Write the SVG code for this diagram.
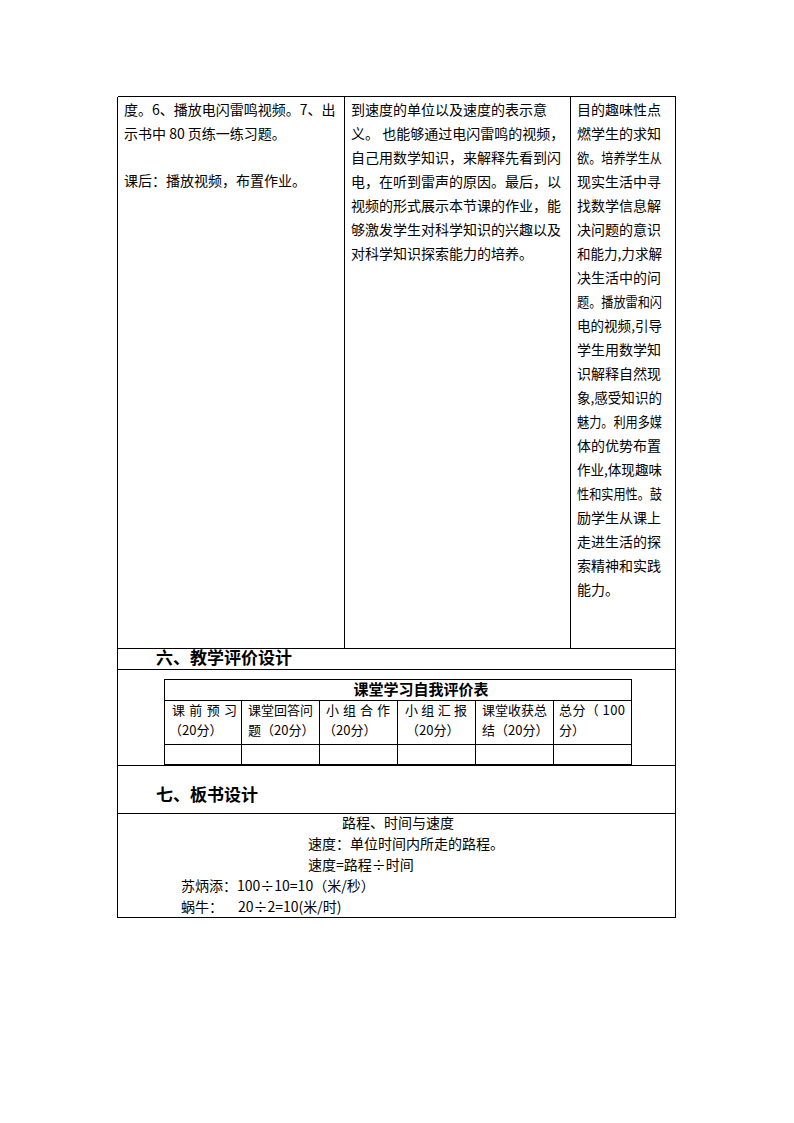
<svg xmlns="http://www.w3.org/2000/svg" width="794" height="1123" viewBox="0 0 794 1123">
<style>
.ln{stroke:#000;stroke-width:1;fill:none;shape-rendering:crispEdges}
.t{font-family:"Noto Sans CJK SC","Liberation Sans",sans-serif;font-size:14px;fill:#000}
.s{font-family:"Noto Sans CJK SC","Liberation Sans",sans-serif;font-size:13px;fill:#000}
.h{font-family:"Noto Sans CJK SC","Liberation Sans",sans-serif;font-size:17px;font-weight:bold;fill:#000}
.th{font-family:"Noto Sans CJK SC","Liberation Sans",sans-serif;font-size:15px;font-weight:bold;fill:#000}
</style>
<rect width="794" height="1123" fill="#fff"/>
<g id="connectors">
<path class="ln" d="M117.5 96.5H675.5M117.5 96.5V917.5M675.5 96.5V917.5M344.5 96.5V648.5M570.5 96.5V648.5M117.5 648.5H675.5M117.5 669.5H675.5M117.5 765.5H675.5M117.5 813.5H675.5M117.5 917.5H675.5"/>
<path class="ln" d="M164.5 679.5H631.5V764.5H164.5ZM164.5 700.5H631.5M164.5 744.5H631.5M241.5 700.5V764.5M319.5 700.5V764.5M397.5 700.5V764.5M475.5 700.5V764.5M553.5 700.5V764.5"/>
</g>
<g id="cell-left">
<text class="t" x="124" y="115">度。6、播放电闪雷鸣视频。7、出</text>
<text class="t" x="124" y="139">示书中 80 页练一练习题。</text>
<text class="t" x="124" y="186">课后：播放视频，布置作业。</text>
</g>
<g id="cell-middle">
<text class="t" x="351" y="115">到速度的单位以及速度的表示意</text>
<text class="t" x="351" y="139" xml:space="preserve">义。 也能够通过电闪雷鸣的视频，</text>
<text class="t" x="351" y="163">自己用数学知识，来解释先看到闪</text>
<text class="t" x="351" y="187">电，在听到雷声的原因。最后，以</text>
<text class="t" x="351" y="211">视频的形式展示本节课的作业，能</text>
<text class="t" x="351" y="235">够激发学生对科学知识的兴趣以及</text>
<text class="t" x="351" y="259">对科学知识探索能力的培养。</text>
</g>
<g id="cell-right">
<text class="t" x="577" y="115">目的趣味性点</text>
<text class="t" x="577" y="139">燃学生的求知</text>
<text class="t" x="577" y="163" textLength="85" lengthAdjust="spacingAndGlyphs">欲。培养学生从</text>
<text class="t" x="577" y="187">现实生活中寻</text>
<text class="t" x="577" y="211">找数学信息解</text>
<text class="t" x="577" y="235">决问题的意识</text>
<text class="t" x="577" y="259" textLength="85" lengthAdjust="spacingAndGlyphs">和能力,力求解</text>
<text class="t" x="577" y="283">决生活中的问</text>
<text class="t" x="577" y="307" textLength="85" lengthAdjust="spacingAndGlyphs">题。播放雷和闪</text>
<text class="t" x="577" y="331" textLength="85" lengthAdjust="spacingAndGlyphs">电的视频,引导</text>
<text class="t" x="577" y="355">学生用数学知</text>
<text class="t" x="577" y="379">识解释自然现</text>
<text class="t" x="577" y="403" textLength="85" lengthAdjust="spacingAndGlyphs">象,感受知识的</text>
<text class="t" x="577" y="427" textLength="85" lengthAdjust="spacingAndGlyphs">魅力。利用多媒</text>
<text class="t" x="577" y="451">体的优势布置</text>
<text class="t" x="577" y="475" textLength="85" lengthAdjust="spacingAndGlyphs">作业,体现趣味</text>
<text class="t" x="577" y="499" textLength="85" lengthAdjust="spacingAndGlyphs">性和实用性。鼓</text>
<text class="t" x="577" y="523">励学生从课上</text>
<text class="t" x="577" y="547">走进生活的探</text>
<text class="t" x="577" y="571">索精神和实践</text>
<text class="t" x="577" y="595">能力。</text>
</g>
<g id="heading-6">
<text class="h" x="156" y="664">六、教学评价设计</text>
</g>
<g id="eval-table">
<text class="th" x="421" y="695" text-anchor="middle">课堂学习自我评价表</text>
<text class="s" x="172" y="715" textLength="65" lengthAdjust="spacing">课前预习</text>
<text class="s" x="169" y="735">（20分）</text>
<text class="s" x="248" y="715">课堂回答问</text>
<text class="s" x="248" y="735">题（20分）</text>
<text class="s" x="326" y="715" textLength="64" lengthAdjust="spacing">小组合作</text>
<text class="s" x="323" y="735">（20分）</text>
<text class="s" x="405" y="715" textLength="62" lengthAdjust="spacing">小组汇报</text>
<text class="s" x="406" y="735">（20分）</text>
<text class="s" x="482" y="715">课堂收获总</text>
<text class="s" x="482" y="735">结（20分）</text>
<text class="s" x="559" y="715" textLength="66" lengthAdjust="spacing">总分（ 100</text>
<text class="s" x="559" y="735">分）</text>
</g>
<g id="heading-7">
<text class="h" x="156" y="801">七、板书设计</text>
</g>
<g id="board">
<text class="t" x="342" y="828">路程、时间与速度</text>
<text class="t" x="308" y="849">速度：单位时间内所走的路程。</text>
<text class="t" x="308" y="870">速度=路程÷时间</text>
<text class="t" x="181" y="891">苏炳添：100÷10=10（米/秒）</text>
<text class="t" x="181" y="912">蜗牛：</text>
<text class="t" x="238" y="912">20÷2=10(米/时)</text>
</g>
</svg>
